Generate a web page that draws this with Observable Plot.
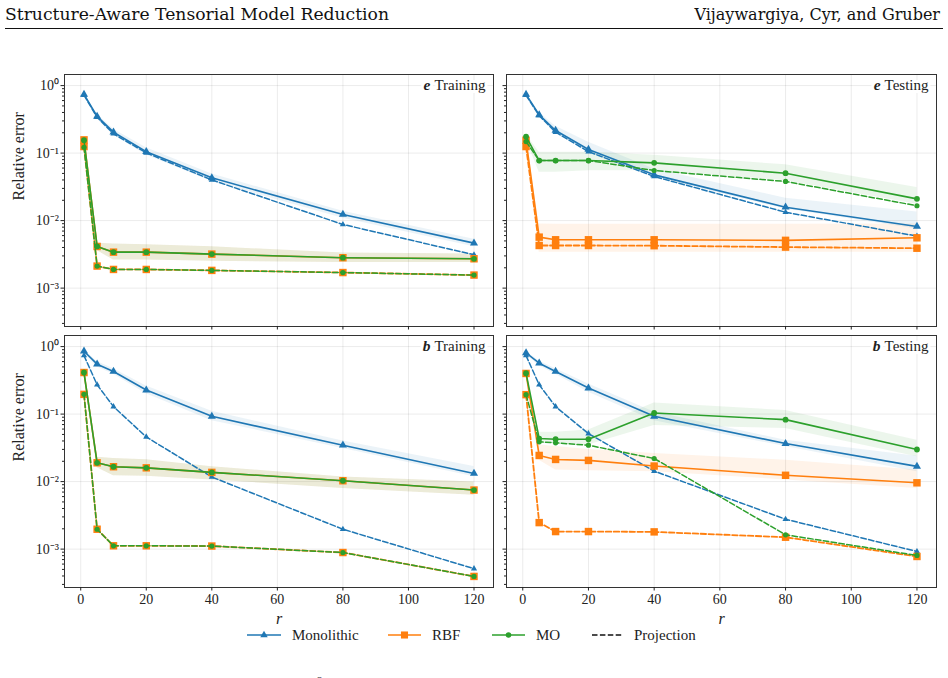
<!DOCTYPE html>
<html><head><meta charset="utf-8">
<script src="https://cdn.jsdelivr.net/npm/d3@7"></script>
<script src="https://cdn.jsdelivr.net/npm/@observablehq/plot@0.6"></script>
<style>
body{margin:0;background:#fff;}
#root{position:relative;width:948px;height:678px;overflow:hidden;background:#fff;}
#root svg{position:absolute;overflow:visible;}
#root svg text{font-family:"Liberation Serif";}
#root svg text.hdr{font-family:"DejaVu Serif";}
</style></head><body><div id="root"></div>
<script>
// ---------- data ----------
const r = [1, 5, 10, 20, 40, 80, 120];
const xTicks = [0, 20, 40, 60, 80, 100, 120];
const yTicks = [1e-3, 1e-2, 1e-1, 1];
const yTickLabels = ["10\u207B\u00B3", "10\u207B\u00B2", "10\u207B\u00B9", "10\u2070"];
const methods = ["Monolithic", "RBF", "MO"];
const colors = ["#1f77b4", "#ff7f0e", "#2ca02c"];
const symbols = ["triangle", "square", "circle"];
const legendLabels = ["Monolithic", "RBF", "MO", "Projection"];
const headerLeft = "Structure-Aware Tensorial Model Reduction";
const headerRight = "Vijaywargiya, Cyr, and Gruber";
const footerFragment = "2";
const xLabel = "r";
const yLabel = "Relative error";

// e Training
const eTrainMono     = [0.74, 0.35, 0.204, 0.105, 0.043, 0.0123, 0.00464];
const eTrainMonoProj = [0.72, 0.34, 0.193, 0.1007, 0.040, 0.00877, 0.00312];
const eTrainMonoLo   = [0.70, 0.32, 0.185, 0.094, 0.038, 0.0108, 0.0041];
const eTrainMonoHi   = [0.78, 0.38, 0.225, 0.12, 0.049, 0.0138, 0.0053];
const eTrainRBF      = [0.157, 0.00414, 0.00341, 0.00341, 0.00319, 0.00282, 0.00272];
const eTrainRBFProj  = [0.125, 0.00212, 0.00189, 0.00189, 0.00183, 0.0017, 0.00156];
const eTrainRBFLo    = [0.13, 0.0036, 0.0026, 0.0026, 0.0025, 0.0024, 0.0024];
const eTrainRBFHi    = [0.17, 0.0046, 0.0045, 0.0044, 0.0041, 0.0033, 0.0032];
const eTrainMO       = [0.155, 0.00414, 0.00341, 0.00341, 0.00319, 0.00282, 0.00272];
const eTrainMOProj   = [0.122, 0.00212, 0.00189, 0.00189, 0.00183, 0.0017, 0.00156];
const eTrainMOLo     = [0.13, 0.0036, 0.0026, 0.0026, 0.0025, 0.0024, 0.0024];
const eTrainMOHi     = [0.17, 0.0046, 0.0045, 0.0044, 0.0041, 0.0033, 0.0032];

// e Testing
const eTestMono      = [0.74, 0.368, 0.216, 0.113, 0.0476, 0.0158, 0.00819];
const eTestMonoProj  = [0.72, 0.36, 0.204, 0.105, 0.045, 0.0133, 0.0059];
const eTestMonoLo    = [0.70, 0.34, 0.20, 0.103, 0.043, 0.0148, 0.0075];
const eTestMonoHi    = [0.78, 0.40, 0.25, 0.145, 0.058, 0.0215, 0.0134];
const eTestRBF       = [0.155, 0.00569, 0.0052, 0.0052, 0.0052, 0.0051, 0.00556];
const eTestRBFProj   = [0.125, 0.00428, 0.00428, 0.00428, 0.00425, 0.00405, 0.0039];
const eTestRBFLo     = [0.14, 0.0034, 0.0034, 0.0034, 0.0034, 0.0034, 0.0034];
const eTestRBFHi     = [0.17, 0.0089, 0.0088, 0.0088, 0.0088, 0.0088, 0.0089];
const eTestMO        = [0.176, 0.0776, 0.0776, 0.0776, 0.0717, 0.0504, 0.021];
const eTestMOProj    = [0.148, 0.0776, 0.0776, 0.0776, 0.0552, 0.038, 0.0166];
const eTestMOLo      = [0.16, 0.052, 0.052, 0.055, 0.055, 0.039, 0.0175];
const eTestMOHi      = [0.19, 0.103, 0.103, 0.103, 0.093, 0.067, 0.031];

// b Training
const bTrainMono     = [0.853, 0.549, 0.428, 0.227, 0.0927, 0.0346, 0.0132];
const bTrainMonoProj = [0.736, 0.272, 0.129, 0.0459, 0.0117, 0.00197, 0.000513];
const bTrainMonoLo   = [0.80, 0.50, 0.39, 0.20, 0.08, 0.031, 0.0118];
const bTrainMonoHi   = [0.90, 0.60, 0.47, 0.26, 0.11, 0.040, 0.0168];
const bTrainRBF      = [0.413, 0.019, 0.0166, 0.016, 0.0137, 0.0103, 0.0075];
const bTrainRBFProj  = [0.196, 0.00197, 0.00112, 0.00112, 0.00111, 0.00089, 0.000394];
const bTrainRBFLo    = [0.39, 0.016, 0.0122, 0.012, 0.0106, 0.0079, 0.0063];
const bTrainRBFHi    = [0.44, 0.0229, 0.022, 0.021, 0.0166, 0.0117, 0.0099];
const bTrainMO       = [0.413, 0.019, 0.0166, 0.016, 0.0137, 0.0103, 0.0075];
const bTrainMOProj   = [0.196, 0.00197, 0.00112, 0.00112, 0.00111, 0.00089, 0.000394];
const bTrainMOLo     = [0.39, 0.016, 0.0122, 0.012, 0.0106, 0.0079, 0.0063];
const bTrainMOHi     = [0.44, 0.0229, 0.022, 0.021, 0.0166, 0.0117, 0.0099];

// b Testing
const bTestMono      = [0.807, 0.568, 0.428, 0.243, 0.0927, 0.0366, 0.0168];
const bTestMonoProj  = [0.736, 0.272, 0.129, 0.0514, 0.0143, 0.00277, 0.000923];
const bTestMonoLo    = [0.76, 0.52, 0.39, 0.21, 0.08, 0.033, 0.014];
const bTestMonoHi    = [0.85, 0.61, 0.47, 0.28, 0.107, 0.041, 0.0238];
const bTestRBF       = [0.40, 0.0244, 0.0213, 0.0206, 0.017, 0.0124, 0.0096];
const bTestRBFProj   = [0.194, 0.00247, 0.00182, 0.00182, 0.0018, 0.0015, 0.000778];
const bTestRBFLo     = [0.37, 0.0207, 0.0148, 0.0145, 0.014, 0.0106, 0.0079];
const bTestRBFHi     = [0.43, 0.035, 0.033, 0.030, 0.026, 0.0207, 0.0148];
const bTestMO        = [0.404, 0.0434, 0.0424, 0.0424, 0.1038, 0.0828, 0.0299];
const bTestMOProj    = [0.194, 0.0388, 0.0375, 0.0346, 0.022, 0.00163, 0.000805];
const bTestMOLo      = [0.38, 0.037, 0.037, 0.035, 0.068, 0.061, 0.0233];
const bTestMOHi      = [0.43, 0.054, 0.054, 0.058, 0.146, 0.113, 0.041];

// ---------- layout ----------
const root = document.getElementById("root");
const FONT = "Liberation Serif";
const xDomain = [-4.95, 125.95];
const yDomain = [2.7e-4, 1.46];

const minorTicks = [];
for (let e = -4; e <= 0; e++) for (let k = 2; k <= 9; k++) {
  const v = k * Math.pow(10, e);
  if (v >= yDomain[0] && v <= yDomain[1]) minorTicks.push(v);
}

const canvas = document.createElement("canvas");
const ctx = canvas.getContext("2d");
function textWidth(s, font) { ctx.font = font; return ctx.measureText(s).width; }

const panels = [
  {tag: "e", name: "Training", left: 0,   top: 60,  width: 500, height: 270, mL: 64, mR: 7,  mB: 4,  showY: true,  showX: false,
   d: {Monolithic: [eTrainMono, eTrainMonoProj, eTrainMonoLo, eTrainMonoHi], RBF: [eTrainRBF, eTrainRBFProj, eTrainRBFLo, eTrainRBFHi], MO: [eTrainMO, eTrainMOProj, eTrainMOLo, eTrainMOHi]}},
  {tag: "e", name: "Testing",  left: 500, top: 60,  width: 448, height: 270, mL: 6,  mR: 12, mB: 4,  showY: false, showX: false,
   d: {Monolithic: [eTestMono, eTestMonoProj, eTestMonoLo, eTestMonoHi], RBF: [eTestRBF, eTestRBFProj, eTestRBFLo, eTestRBFHi], MO: [eTestMO, eTestMOProj, eTestMOLo, eTestMOHi]}},
  {tag: "b", name: "Training", left: 0,   top: 321, width: 500, height: 305, mL: 64, mR: 7,  mB: 39, showY: true,  showX: true,
   d: {Monolithic: [bTrainMono, bTrainMonoProj, bTrainMonoLo, bTrainMonoHi], RBF: [bTrainRBF, bTrainRBFProj, bTrainRBFLo, bTrainRBFHi], MO: [bTrainMO, bTrainMOProj, bTrainMOLo, bTrainMOHi]}},
  {tag: "b", name: "Testing",  left: 500, top: 321, width: 448, height: 305, mL: 6,  mR: 12, mB: 39, showY: false, showX: true,
   d: {Monolithic: [bTestMono, bTestMonoProj, bTestMonoLo, bTestMonoHi], RBF: [bTestRBF, bTestRBFProj, bTestRBFLo, bTestRBFHi], MO: [bTestMO, bTestMOProj, bTestMOLo, bTestMOHi]}}
];

const dotR = {full: [3.0, 4.2, 2.9], proj: [2.3, 4.2, 2.6]};
const labelFont = "15px 'Liberation Serif'";

for (const p of panels) {
  const marks = [
    Plot.gridX({ticks: xTicks, stroke: "#000", strokeOpacity: 0.1, strokeWidth: 0.8}),
    Plot.gridY({ticks: yTicks, stroke: "#000", strokeOpacity: 0.1, strokeWidth: 0.8})
  ];
  methods.forEach((m, k) => {
    const [, , lo, hi] = p.d[m];
    marks.push(Plot.areaY(r.map((x, i) => ({x, lo: lo[i], hi: hi[i]})),
      {x: "x", y1: "lo", y2: "hi", fill: colors[k], fillOpacity: 0.09}));
  });
  methods.forEach((m, k) => {
    const [full, proj] = p.d[m];
    const fd = r.map((x, i) => ({x, y: full[i]}));
    const pd = r.map((x, i) => ({x, y: proj[i]}));
    marks.push(Plot.line(pd, {x: "x", y: "y", stroke: colors[k], strokeWidth: k === 1 ? 1.8 : 1.5, strokeDasharray: "5.5,2.4"}));
    marks.push(Plot.dot(pd, {x: "x", y: "y", symbol: symbols[k], r: dotR.proj[k], fill: colors[k], stroke: "none"}));
    marks.push(Plot.line(fd, {x: "x", y: "y", stroke: colors[k], strokeWidth: 1.6}));
    marks.push(Plot.dot(fd, {x: "x", y: "y", symbol: symbols[k], r: dotR.full[k], fill: colors[k], stroke: "none"}));
  });
  marks.push(Plot.frame({stroke: "#333", strokeWidth: 1}));
  marks.push(Plot.axisX({ticks: xTicks, tickSize: 3.5, tickPadding: 3, label: null, fontSize: 14,
    tickFormat: p.showX ? (d => String(d)) : (() => "")}));
  marks.push(Plot.axisY({ticks: yTicks, tickSize: 3.5, tickPadding: 2, label: null, fontSize: 14,
    tickFormat: p.showY ? (d => yTickLabels[yTicks.indexOf(d)]) : (() => "")}));
  marks.push(Plot.axisY({ticks: minorTicks, tickSize: 2, label: null, tickFormat: () => ""}));
  if (p.showX) marks.push(Plot.text([xLabel], {text: d => d, frameAnchor: "bottom", lineAnchor: "middle", dy: 31, fontSize: 16, fontStyle: "italic"}));
  if (p.showY) marks.push(Plot.text([yLabel], {text: d => d, frameAnchor: "left", rotate: -90, dx: -46, fontSize: 16}));
  const wName = textWidth(p.name, labelFont);
  marks.push(Plot.text([p.name], {text: d => d, frameAnchor: "top-right", textAnchor: "end", lineAnchor: "middle", dx: -8, dy: 11, fontSize: 15, stroke: "white", strokeWidth: 6, fill: "#222"}));
  marks.push(Plot.text([p.tag], {text: d => d, frameAnchor: "top-right", textAnchor: "end", lineAnchor: "middle", dx: -8 - wName - 4, dy: 11, fontSize: 15.5, fontWeight: "bold", fontStyle: "italic", stroke: "white", strokeWidth: 6, fill: "#222"}));

  const svg = Plot.plot({
    width: p.width, height: p.height,
    marginLeft: p.mL, marginRight: p.mR, marginTop: 14, marginBottom: p.mB,
    x: {domain: xDomain},
    y: {type: "log", domain: yDomain},
    style: {fontFamily: FONT, fontSize: "14px", color: "#222", background: "transparent", overflow: "visible"},
    marks
  });
  svg.style.left = p.left + "px";
  svg.style.top = p.top + "px";
  root.appendChild(svg);
}

// ---------- header ----------
const hdr = d3.select(root).append("svg").attr("width", 948).attr("height", 40).style("left", "0px").style("top", "0px");
hdr.append("text").attr("class", "hdr").attr("x", 5).attr("y", 19.5).attr("textLength", 384).attr("lengthAdjust", "spacingAndGlyphs")
  .style("font-size", "16px").attr("fill", "#111").text(headerLeft);
hdr.append("text").attr("class", "hdr").attr("x", 940).attr("y", 19.5).attr("text-anchor", "end")
  .style("font-size", "16px").attr("fill", "#111").text(headerRight);
hdr.append("line").attr("x1", 5).attr("x2", 943).attr("y1", 28.5).attr("y2", 28.5).attr("stroke", "#111").attr("stroke-width", 1);

// ---------- legend ----------
const lg = d3.select(root).append("svg").attr("width", 948).attr("height", 63).style("left", "0px").style("top", "615px");
const items = [
  {x0: 247, x1: 281, tx: 292, color: colors[0], sym: d3.symbolTriangle, size: 24, dash: null},
  {x0: 388, x1: 421, tx: 432, color: colors[1], sym: d3.symbolSquare, size: 50, dash: null},
  {x0: 492, x1: 525, tx: 536, color: colors[2], sym: d3.symbolCircle, size: 24, dash: null},
  {x0: 592, x1: 623, tx: 634, color: "#111", sym: null, size: 0, dash: "5.5,2.4"}
];
items.forEach((it, i) => {
  const cy = 20;
  lg.append("line").attr("x1", it.x0).attr("x2", it.x1).attr("y1", cy).attr("y2", cy)
    .attr("stroke", it.color).attr("stroke-width", 1.6).attr("stroke-dasharray", it.dash);
  if (it.sym) lg.append("path").attr("d", d3.symbol(it.sym, it.size)()).attr("transform", `translate(${(it.x0 + it.x1) / 2},${cy})`).attr("fill", it.color);
  lg.append("text").attr("x", it.tx).attr("y", cy).attr("dy", "0.35em").style("font-size", "15px").attr("fill", "#222").text(legendLabels[i]);
});
// cut-off fragment of the next text line at the bottom edge
lg.append("text").attr("x", 317).attr("y", 69).style("font-size", "11px").attr("fill", "#222").text(footerFragment);
</script></body></html>
